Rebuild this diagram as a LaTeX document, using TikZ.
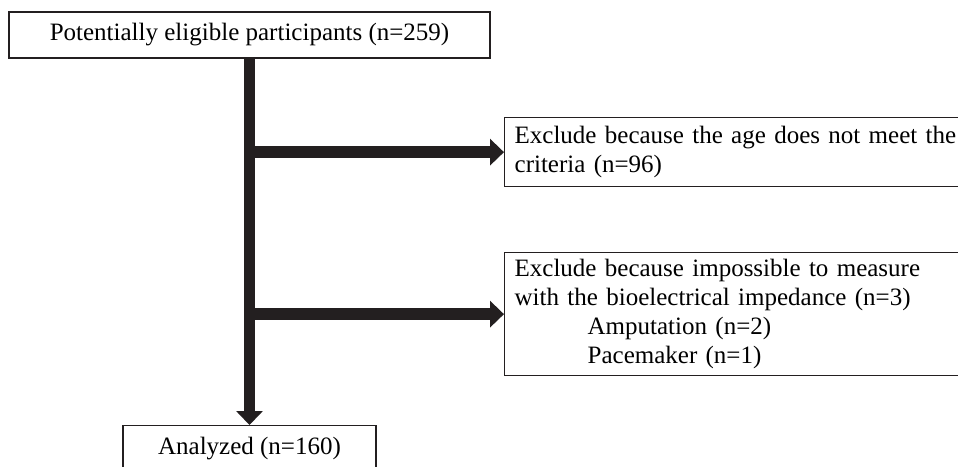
\documentclass[tikz,border=0pt]{standalone}
\usepackage{fontspec}
\setmainfont{Liberation Serif}
\usetikzlibrary{arrows.meta}
\definecolor{flowink}{RGB}{35,31,32}

\begin{document}
\begin{tikzpicture}[x=1pt,y=-1pt,
  font=\fontsize{25}{29}\selectfont,
  box/.style={draw=flowink,line width=1.3pt,inner sep=0pt},
  flow/.style={draw=flowink,line width=11pt,-{Triangle[width=26pt,length=14pt]}}]
\clip (0,0) rectangle (958,466);
% boxes
\node[box,minimum width=481pt,minimum height=46pt] (elig) at (249.5,35) {Potentially eligible participants (n=259)};
\node[box,anchor=north west,minimum width=480pt,minimum height=69pt,text width=460pt,align=left,inner xsep=9pt] (age) at (504,117) {Exclude because the age does not meet the\\criteria (n=96)};
\node[box,anchor=north west,minimum width=480pt,minimum height=123pt,text width=460pt,align=left,inner xsep=9pt] (bia) at (504,252) {Exclude because impossible to measure\\with the bioelectrical impedance (n=3)\\\hspace*{73pt}Amputation (n=2)\\\hspace*{73pt}Pacemaker (n=1)};
\node[box,anchor=north,minimum width=253pt,text height=17pt,text depth=5pt,inner ysep=12pt] (done) at (249.5,425) {Analyzed (n=160)};
% arrows
\draw[flow] (elig.south) -- (done.north);
\draw[flow,line width=12pt] (elig.south |- age.west) -- (age.west);
\draw[flow,line width=12pt] (elig.south |- bia.west) -- (bia.west);
\end{tikzpicture}
\end{document}
